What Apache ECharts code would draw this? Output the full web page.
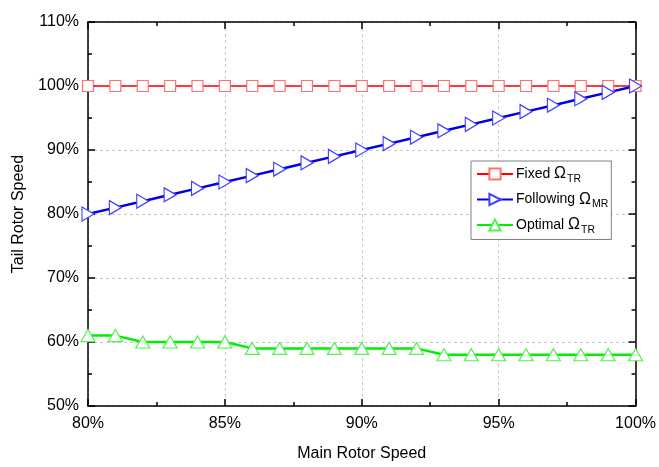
<!DOCTYPE html>
<html>
<head>
<meta charset="utf-8">
<script src="https://cdn.jsdelivr.net/npm/echarts@6/dist/echarts.min.js"></script>
<style>
  html, body { margin: 0; padding: 0; background: #ffffff; }
  #chart { width: 659px; height: 467px; }
</style>
</head>
<body>
<div id="chart"></div>
<script>
// Main rotor speed (%), x positions of the samples
const mainSpeed = [80, 81, 82, 83, 84, 85, 86, 87, 88, 89, 90, 91, 92, 93, 94, 95, 96, 97, 98, 99, 100];
// Tail rotor speed (%) for each strategy
const fixedTR = [100, 100, 100, 100, 100, 100, 100, 100, 100, 100, 100, 100, 100, 100, 100, 100, 100, 100, 100, 100, 100];
const followingMR = [80, 81, 82, 83, 84, 85, 86, 87, 88, 89, 90, 91, 92, 93, 94, 95, 96, 97, 98, 99, 100];
const optimalTR = [61, 61, 60, 60, 60, 60, 59, 59, 59, 59, 59, 59, 59, 58, 58, 58, 58, 58, 58, 58, 58];

const seriesNames = ['Fixed', 'Following', 'Optimal'];
const seriesSubs = ['TR', 'MR', 'TR'];

const pairs = vals => mainSpeed.map((x, i) => [x, vals[i]]);

const font = '"Liberation Sans", Arial, sans-serif';
const pct = v => v + '%';

const chart = echarts.init(document.getElementById('chart'), null, { renderer: 'canvas' });

const boxAxis = {
  axisLine: { show: true, onZero: false, lineStyle: { color: '#000', width: 1.5 } },
  axisTick: { show: true, inside: true, length: 7, lineStyle: { color: '#000', width: 1.5 } },
  minorTick: { show: true, splitNumber: 2, length: 4, lineStyle: { color: '#000', width: 1.5 } }
};

chart.setOption({
  animation: false,
  backgroundColor: '#ffffff',
  grid: { left: 88, right: 23, top: 22, bottom: 56 },
  legend: {
    orient: 'vertical',
    left: 471,
    top: 161,
    backgroundColor: '#ffffff',
    borderColor: '#808080',
    borderWidth: 1,
    padding: [5, 3, 4, 5],
    itemGap: 7,
    itemWidth: 36,
    itemHeight: 14,
    data: seriesNames,
    formatter: name => {
      const i = seriesNames.indexOf(name);
      return name + ' {om|Ω}{sub|' + seriesSubs[i] + '}';
    },
    textStyle: {
      fontFamily: font,
      fontSize: 14,
      color: '#000',
      padding: [0, 0, 0, -2],
      rich: {
        om: { fontFamily: font, fontSize: 16, color: '#000' },
        sub: { fontFamily: font, fontSize: 10.5, color: '#000', padding: [10, 0, 0, 1] }
      }
    }
  },
  xAxis: [
    Object.assign({}, boxAxis, {
      type: 'value', min: 80, max: 100, interval: 5,
      name: 'Main Rotor Speed', nameLocation: 'middle', nameGap: 40,
      nameTextStyle: { fontFamily: font, fontSize: 16, color: '#000' },
      axisLabel: { formatter: pct, fontFamily: font, fontSize: 16, color: '#000', margin: 10 },
      splitLine: { show: true, lineStyle: { color: '#c8c8c8', type: [3, 3], width: 1 } }
    }),
    Object.assign({}, boxAxis, {
      type: 'value', min: 80, max: 100, interval: 5, position: 'top',
      axisLabel: { show: false }, splitLine: { show: false }
    })
  ],
  yAxis: [
    Object.assign({}, boxAxis, {
      type: 'value', min: 50, max: 110, interval: 10,
      name: 'Tail Rotor Speed', nameLocation: 'middle', nameGap: 61,
      nameTextStyle: { fontFamily: font, fontSize: 16, color: '#000' },
      axisLabel: { formatter: pct, fontFamily: font, fontSize: 16, color: '#000', margin: 9 },
      splitLine: { show: true, lineStyle: { color: '#c8c8c8', type: [3, 3], width: 1 } }
    }),
    Object.assign({}, boxAxis, {
      type: 'value', min: 50, max: 110, interval: 10, position: 'right',
      axisLabel: { show: false }, splitLine: { show: false }
    })
  ],
  series: [
    {
      name: seriesNames[0], type: 'line', data: pairs(fixedTR),
      color: '#ff0000',
      lineStyle: { color: '#ff0000', width: 1.5 },
      symbol: 'rect', symbolSize: 11,
      itemStyle: { color: '#ffffff', borderColor: '#ff7070', borderWidth: 1.2 }
    },
    {
      name: seriesNames[1], type: 'line', data: pairs(followingMR),
      color: '#0000e6',
      lineStyle: { color: '#0000e6', width: 2.5 },
      symbol: 'triangle', symbolRotate: -90, symbolSize: [14, 12],
      itemStyle: { color: '#ffffff', borderColor: '#4040ff', borderWidth: 1.2 }
    },
    {
      name: seriesNames[2], type: 'line', data: pairs(optimalTR),
      color: '#00ee00',
      lineStyle: { color: '#00ee00', width: 2.5 },
      symbol: 'triangle', symbolSize: [14, 12],
      itemStyle: { color: '#ffffff', borderColor: '#55f055', borderWidth: 1.2 }
    }
  ]
});
</script>
</body>
</html>
